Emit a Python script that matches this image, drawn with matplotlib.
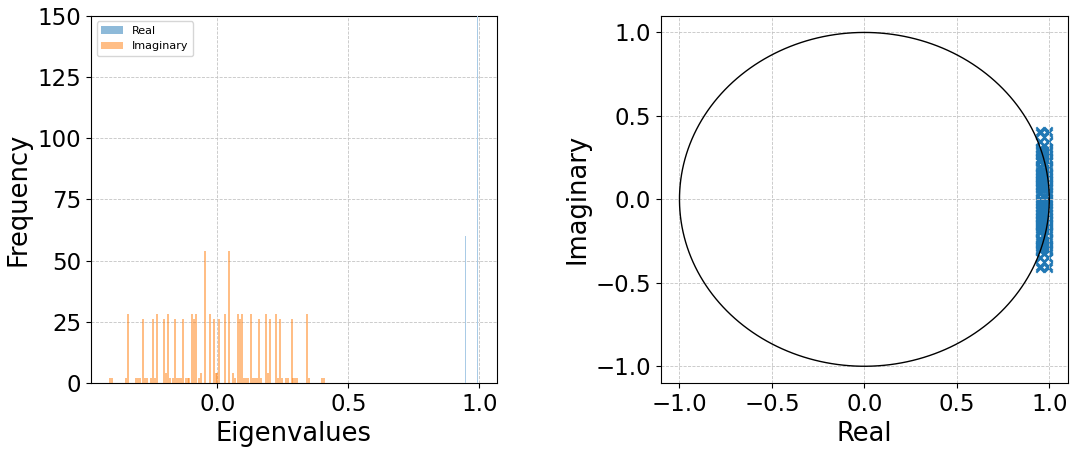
import matplotlib.pyplot as plt
import numpy as np

# imaginary parts of the eigenvalues (histogram bin centres) and their counts
imag_vals = [-0.409, -0.401, -0.351, -0.343, -0.311, -0.303, -0.296, -0.286, -0.278, -0.270,
             -0.253, -0.245, -0.238, -0.230, -0.203, -0.196, -0.188, -0.180, -0.171, -0.162,
             -0.155, -0.147, -0.140, -0.130, -0.122, -0.114, -0.107, -0.096, -0.088, -0.081,
             -0.072, -0.064, -0.047, -0.030, -0.015, -0.0075, 0.0, 0.0075, 0.030, 0.045,
             0.060, 0.068, 0.078, 0.085, 0.093, 0.101, 0.109, 0.116, 0.127, 0.135,
             0.142, 0.150, 0.159, 0.167, 0.185, 0.193, 0.200, 0.225, 0.232, 0.240,
             0.248, 0.263, 0.270, 0.283, 0.290, 0.298, 0.305, 0.342, 0.350, 0.400,
             0.408]
imag_counts = [2, 2, 2, 28, 2, 2, 2, 26, 2, 2,
               2, 26, 2, 28, 26, 4, 28, 2, 2, 26,
               2, 2, 2, 26, 2, 2, 2, 28, 26, 28,
               2, 4, 54, 28, 26, 4, 4, 26, 28, 54,
               4, 2, 28, 26, 28, 2, 2, 2, 28, 2,
               2, 2, 26, 2, 28, 4, 26, 28, 2, 26,
               2, 2, 2, 26, 2, 2, 2, 28, 2, 2,
               2]

# real parts of the eigenvalues and their counts
real_vals = [0.949, 0.994]
real_counts = [60, 700]

imag_width = 0.0076
real_width = 0.004

fig = plt.figure(figsize=(10.79, 4.5), dpi=100)
ax1 = fig.add_axes([0.0843, 0.149, 0.376, 0.816])
ax2 = fig.add_axes([0.6126, 0.149, 0.377, 0.816])

grid_kw = dict(color='#c4c4c4', linestyle='--', linewidth=0.6)

# histogram of real / imaginary parts
ax1.bar(real_vals, real_counts, width=real_width, color='#a9cbe6',
        linewidth=0, label='Real', zorder=3)
ax1.bar(imag_vals, imag_counts, width=imag_width, color='C1', alpha=0.5,
        linewidth=0, label='Imaginary', zorder=3)
ax1.set_ylim(0, 150)
ax1.set_yticks([0, 25, 50, 75, 100, 125, 150])
ax1.set_xticks([0.0, 0.5, 1.0])
ax1.set_xlabel('Eigenvalues', fontsize=18.5)
ax1.set_ylabel('Frequency', fontsize=18.5)
ax1.tick_params(labelsize=16.5)
leg = ax1.legend(loc='upper left', fontsize=8)
leg.legend_handles[0].set_color('C0')
leg.legend_handles[0].set_alpha(0.5)
ax1.grid(True, **grid_kw)

# eigenvalues in the complex plane with unit circle
theta = np.linspace(0, 2 * np.pi, 400)
ax2.plot(np.cos(theta), np.sin(theta), color='black', linewidth=1)
for re in real_vals:
    ax2.scatter([re] * len(imag_vals), imag_vals, marker='x', color='C0', s=36)
ax2.set_xticks([-1.0, -0.5, 0.0, 0.5, 1.0])
ax2.set_yticks([-1.0, -0.5, 0.0, 0.5, 1.0])
ax2.set_xlabel('Real', fontsize=18.5)
ax2.set_ylabel('Imaginary', fontsize=18.5)
ax2.tick_params(labelsize=16.5)
ax2.grid(True, **grid_kw)

plt.savefig('out.png', dpi=100)
